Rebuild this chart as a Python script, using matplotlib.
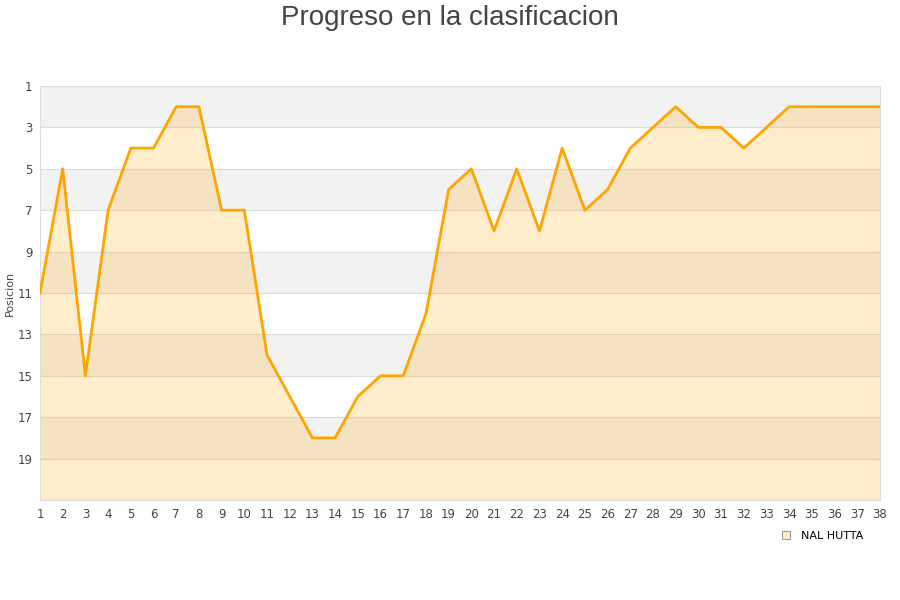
import numpy as np
import matplotlib
matplotlib.use("Agg")
import matplotlib.pyplot as plt

jornadas = list(range(1, 39))
posicion = [11, 5, 15, 7, 4, 4, 2, 2, 7, 7,
            14, 16, 18, 18, 16, 15, 15, 12, 6, 5,
            8, 5, 8, 4, 7, 6, 4, 3, 2, 3,
            3, 4, 3, 2, 2, 2, 2, 2]
equipo = "NAL HUTTA"
y_ticks = [1, 3, 5, 7, 9, 11, 13, 15, 17, 19]

fig = plt.figure(figsize=(9, 6), dpi=100)
ax = fig.add_axes([40 / 900, 100 / 600, 840 / 900, 414 / 600])

# bandas grises alternas
for b in range(1, 21, 4):
    ax.axhspan(b, b + 2, color="#f2f2f2", zorder=0, lw=0)
for b in range(1, 22, 2):
    ax.axhline(b, color="#dddddd", lw=0.8, zorder=1)

ax.fill_between(jornadas, posicion, 21, color="#ffa500", alpha=0.2, lw=0, zorder=2)
ax.plot(jornadas, posicion, color="#ffa500", lw=2, zorder=3, label=equipo)

ax.set_xlim(1, 38)
ax.set_ylim(21, 1)
ax.set_xticks(jornadas)
ax.set_yticks(y_ticks)
ax.tick_params(length=0, labelsize=8.5, colors="#444444", pad=6)
ax.tick_params(axis="y", pad=5.5)
for s in ax.spines.values():
    s.set_color("#dddddd")

ax.set_ylabel("Posicion", fontsize=8, color="#444444")
ax.yaxis.set_label_coords(-25 / 840, 0.5)
fig.text(0.5, 1 - 18 / 600, "Progreso en la clasificacion", fontsize=20,
         color="#444444", family="Liberation Sans", ha="center", va="center")

h = plt.Line2D([], [], marker="s", ls="", markersize=6, markerfacecolor="#ffedcc",
               markeredgecolor="#999999", markeredgewidth=0.8)
fig.legend([h], [equipo], loc="center right", bbox_to_anchor=(0.97, 1 - 536 / 600),
           frameon=False, fontsize=8, handletextpad=0.3)

fig.savefig("out.png", dpi=100)
